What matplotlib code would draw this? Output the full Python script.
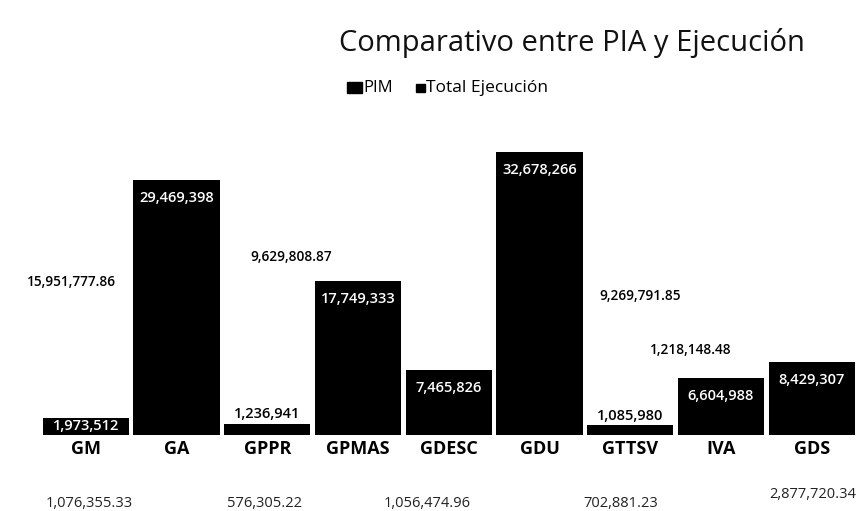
import matplotlib
matplotlib.use("Agg")
import matplotlib.pyplot as plt
from matplotlib.patches import Rectangle

plt.rcParams['font.family'] = ['Open Sans', 'DejaVu Sans']

categories = ["GM", "GA", "GPPR", "GPMAS", "GDESC", "GDU", "GTTSV", "IVA", "GDS"]
pim = [1973512, 29469398, 1236941, 17749333, 7465826, 32678266, 1085980, 6604988, 8429307]

# Total Ejecución values as printed on the scanned chart
ejec_upper = ["15,951,777.86", "9,629,808.87", "9,269,791.85", "1,218,148.48"]
ejec_lower = ["1,076,355.33", "576,305.22", "1,056,474.96", "702,881.23", "2,877,720.34"]

# layout (label placements, not data)
upper_pos = [(-0.16, 17.7e6), (2.26, 20.6e6), (6.11, 16.1e6), (6.67, 9.85e6)]
lower_pos = [(0.04, -7.9e6), (1.97, -7.9e6), (3.76, -7.9e6), (5.9, -7.9e6), (8.01, -6.95e6)]

fig = plt.figure(figsize=(8.58, 5.11), dpi=100)
ax = fig.add_axes([0.047, 0.149, 0.952, 0.68])
x = list(range(len(categories)))
ax.bar(x, pim, width=0.95, color="black", label="PIM")
ax.set_xlim(-0.5, len(categories) - 0.5)
ax.set_ylim(0, 40.2e6)
for s in ax.spines.values():
    s.set_visible(False)
ax.set_yticks([])
ax.set_xticks(x)
ax.set_xticklabels(categories, fontsize=13, fontweight="bold")
ax.tick_params(axis="x", length=0, pad=4)

for i, v in enumerate(pim):
    txt = f"{v:,}"
    if v < 1.5e6:
        ax.annotate(txt, (i, v), xytext=(0, 2), textcoords="offset points",
                    ha="center", va="bottom", fontsize=10.5, fontweight="semibold", color="black")
    elif v < 3e6:
        ax.annotate(txt, (i, v / 2), ha="center", va="center", fontsize=10.5,
                    fontweight="semibold", color="white")
    else:
        ax.annotate(txt, (i, v), xytext=(0, -13), textcoords="offset points",
                    ha="center", va="center", fontsize=10.5, fontweight="semibold", color="white")

for t, (px, py) in zip(ejec_upper, upper_pos):
    ax.text(px, py, t, ha="center", va="center", fontsize=9.8, fontweight="semibold",
            color="black", clip_on=False)
for t, (px, py) in zip(ejec_lower, lower_pos):
    ax.text(px, py, t, ha="center", va="center", fontsize=10.5, color="#222222",
            clip_on=False)

fig.text(0.667, 0.916, "Comparativo entre PIA y Ejecución", ha="center", va="center",
         fontsize=21, color="#111111")

# legend
fig.patches.append(Rectangle((0.404, 0.818), 0.0175, 0.021, transform=fig.transFigure,
                             color="black"))
fig.text(0.423, 0.828, "PIM", ha="left", va="center", fontsize=12)
fig.patches.append(Rectangle((0.485, 0.820), 0.0105, 0.015, transform=fig.transFigure,
                             color="black"))
fig.text(0.497, 0.828, "Total Ejecución", ha="left", va="center", fontsize=12.5)

fig.savefig("out.png", dpi=100, facecolor="white")
